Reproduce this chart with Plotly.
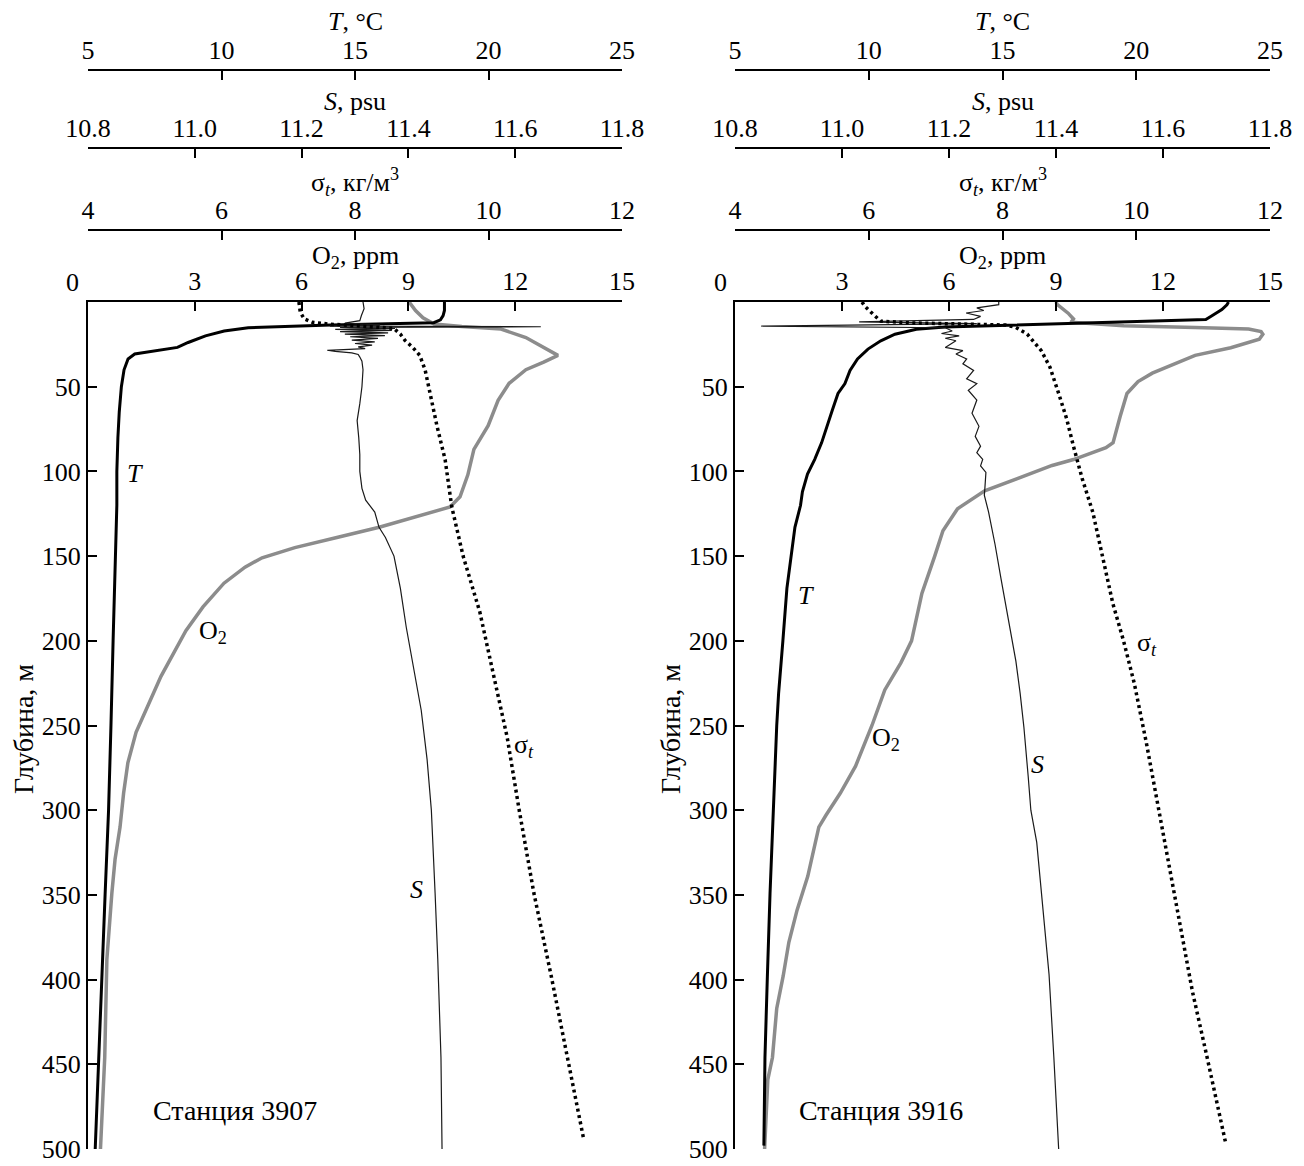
import plotly.graph_objects as go

# ---------------- Station 3907 ----------------
t_depth_3907 = [0, 5, 8, 10.5, 12.2, 13.6, 15.2, 17.1, 20, 23.9, 26.8, 29, 30.7, 33.6, 40, 50, 65, 80,
                100, 120, 150, 200, 250, 300, 350, 400, 450, 500]
t_3907 = [18.35, 18.35, 18.3, 18.2, 17.95, 14.1, 11.0, 10.1, 9.4, 8.75, 8.35, 7.45, 6.75, 6.5, 6.35, 6.25,
          6.17, 6.12, 6.08, 6.08, 6.02, 5.94, 5.86, 5.77, 5.64, 5.51, 5.38, 5.27]

s_depth_3907 = [0, 4, 8, 11, 12.5, 13.5, 14.2, 14.6, 15, 15.6, 16.2, 16.8, 17.5, 18.2, 19, 19.8, 20.5,
                21.5, 22.5, 23.5, 24.5, 25.5, 26.5, 27.5, 28.5, 29.2, 30, 31, 32.5, 35, 40, 50, 60, 70,
                80, 90, 100, 110, 117, 124, 133, 139, 150, 169, 192, 221, 241, 270, 300, 349, 388, 446, 500]
s_3907 = [11.315, 11.317, 11.312, 11.309, 11.281, 11.347, 11.253, 11.648, 11.272, 11.375, 11.263, 11.369,
          11.272, 11.362, 11.281, 11.356, 11.291, 11.343, 11.294, 11.337, 11.300, 11.332, 11.306, 11.319,
          11.248, 11.263, 11.294, 11.306, 11.309, 11.313, 11.315, 11.313, 11.309, 11.304, 11.307, 11.309,
          11.309, 11.313, 11.320, 11.337, 11.345, 11.357, 11.373, 11.385, 11.396, 11.412, 11.424, 11.435,
          11.443, 11.450, 11.455, 11.461, 11.463]

sig_depth_3907 = [0, 6, 10, 12, 13, 13.8, 14.5, 15.5, 19, 22.7, 27, 31.5, 40, 54, 73.5, 93, 104, 121, 150,
                  183, 221, 257, 300, 349, 398, 446, 495]
sig_3907 = [7.16, 7.18, 7.24, 7.36, 7.60, 7.95, 8.35, 8.58, 8.68, 8.75, 8.87, 8.97, 9.05, 9.12, 9.23, 9.35,
            9.39, 9.45, 9.62, 9.87, 10.08, 10.28, 10.46, 10.68, 10.94, 11.18, 11.43]

o2_depth_3907 = [0, 5, 9.3, 13, 14.5, 16, 21, 27, 31.5, 35.5, 40, 48, 58, 73, 87, 102, 110, 115, 121, 126,
                 133, 139, 145, 151, 156.5, 166, 180, 194, 207, 221, 237, 254, 272, 290, 310, 329, 349, 368,
                 388, 446, 500]
o2_3907 = [9.02, 9.2, 9.41, 9.72, 10.5, 11.6, 12.3, 12.8, 13.2, 12.8, 12.3, 11.83, 11.52, 11.24, 10.84,
           10.67, 10.55, 10.45, 10.17, 9.35, 8.18, 6.99, 5.81, 4.89, 4.41, 3.82, 3.23, 2.75, 2.41, 2.05,
           1.71, 1.35, 1.12, 1.0, 0.90, 0.76, 0.67, 0.59, 0.53, 0.47, 0.35]

# ---------------- Station 3916 ----------------
t_depth_3916 = [0, 1.6, 4.5, 6.4, 8.4, 10.3, 11.7, 12.8, 13.8, 14.8, 16.1, 19, 22.9, 27.8, 33.6, 40.4, 48.2,
                54, 63.7, 73.4, 83, 92.9, 101.6, 112, 120, 133, 150, 169, 200, 231, 250, 300, 349, 398, 446, 498]
t_3916 = [23.45, 23.39, 23.2, 22.98, 22.8, 22.6, 19.53, 16.85, 14.2, 12.85, 11.78, 10.98, 10.45, 9.97, 9.58,
          9.3, 9.11, 8.85, 8.64, 8.44, 8.24, 7.98, 7.71, 7.52, 7.45, 7.24, 7.09, 6.94, 6.79, 6.63, 6.56, 6.43,
          6.31, 6.21, 6.12, 6.08]

s_depth_3916 = [0, 1.6, 3.5, 5, 6.5, 8.5, 10.3, 11.7, 12.8, 14.2, 15.2, 17.1, 18.6, 20, 21.4, 22.9, 26.8,
                28.7, 30.7, 33.6, 36.5, 40.4, 45.3, 48.2, 52.1, 57.9, 65.7, 73.4, 79.3, 85.1, 89, 92.9, 96.7,
                100.6, 110.3, 114, 124, 143, 163, 192, 212, 231, 251, 280, 300, 319, 358, 397, 446, 500]
s_3916 = [11.293, 11.293, 11.252, 11.265, 11.232, 11.259, 11.246, 11.032, 11.252, 10.849, 11.193, 11.206,
          11.186, 11.219, 11.193, 11.213, 11.193, 11.226, 11.213, 11.233, 11.226, 11.246, 11.233, 11.252,
          11.236, 11.252, 11.243, 11.256, 11.249, 11.259, 11.252, 11.263, 11.259, 11.269, 11.267, 11.266,
          11.274, 11.286, 11.297, 11.313, 11.325, 11.333, 11.340, 11.348, 11.353, 11.364, 11.375, 11.387,
          11.396, 11.405]

sig_depth_3916 = [0, 2.5, 7.4, 11.3, 12.3, 12.8, 13.2, 13.6, 15, 19, 28.7, 38.5, 54, 69, 85, 104, 124, 150,
                  178, 200, 225, 260, 300, 329, 368, 407, 446, 497]
sig_3916 = [5.90, 5.94, 6.07, 6.18, 6.60, 7.20, 7.70, 8.05, 8.20, 8.37, 8.58, 8.71, 8.84, 8.96, 9.06, 9.19,
            9.35, 9.50, 9.65, 9.81, 9.97, 10.15, 10.34, 10.47, 10.65, 10.84, 11.06, 11.34]

o2_depth_3916 = [0, 1.6, 6.6, 10, 12, 13, 14, 15, 16, 17.5, 19, 22, 27, 31.5, 36.5, 42, 47, 54, 67.5, 83, 86,
                 93, 96.5, 104, 111.5, 122, 135, 150, 172, 200, 213, 229, 250, 274, 290, 303, 310, 339, 359,
                 378, 398, 417, 446, 459, 494, 500]
o2_3916 = [9.0, 9.04, 9.34, 9.49, 9.42, 10.2, 10.9, 12.9, 14.4, 14.75, 14.8, 14.7, 13.9, 12.9, 12.3, 11.7,
           11.3, 10.99, 10.8, 10.6, 10.4, 9.49, 8.89, 7.95, 7.0, 6.24, 5.83, 5.6, 5.24, 4.95, 4.65, 4.2, 3.84,
           3.38, 2.95, 2.55, 2.35, 2.04, 1.74, 1.51, 1.35, 1.17, 1.05, 0.92, 0.84, 0.83]

# ---------------- axes / labels ----------------
t_ticks = [5, 10, 15, 20, 25]
s_ticks = [10.8, 11.0, 11.2, 11.4, 11.6, 11.8]
sig_ticks = [4, 6, 8, 10, 12]
o2_ticks = [3, 6, 9, 12, 15]
depth_ticks = [50, 100, 150, 200, 250, 300, 350, 400, 450, 500]
stations = ["Станция 3907", "Станция 3916"]

W, H = 1304, 1166
FONT = "Liberation Serif"
FS = 26
FS_CYR = 28
GRAY = "#8c8c8c"


def px(x):
    return x / W


def py(y):
    return 1 - y / H


fig = go.Figure()

panels = [
    dict(tx=t_3907, td=t_depth_3907, sx=s_3907, sd=s_depth_3907, gx=sig_3907, gd=sig_depth_3907,
         ox=o2_3907, od=o2_depth_3907, ax=["x", "x2", "x3", "x4"], y="y"),
    dict(tx=t_3916, td=t_depth_3916, sx=s_3916, sd=s_depth_3916, gx=sig_3916, gd=sig_depth_3916,
         ox=o2_3916, od=o2_depth_3916, ax=["x5", "x6", "x7", "x8"], y="y2"),
]

for p in panels:
    fig.add_trace(go.Scatter(x=p["ox"], y=p["od"], xaxis=p["ax"][0], yaxis=p["y"], mode="lines",
                             line=dict(color=GRAY, width=3.5), showlegend=False))
    fig.add_trace(go.Scatter(x=p["gx"], y=p["gd"], xaxis=p["ax"][3], yaxis=p["y"], mode="lines",
                             line=dict(color="black", width=3.5, dash="3px,3.5px"), showlegend=False))
    fig.add_trace(go.Scatter(x=p["sx"], y=p["sd"], xaxis=p["ax"][2], yaxis=p["y"], mode="lines",
                             line=dict(color="#1a1a1a", width=1.2), showlegend=False))
    fig.add_trace(go.Scatter(x=p["tx"], y=p["td"], xaxis=p["ax"][1], yaxis=p["y"], mode="lines",
                             line=dict(color="black", width=3), showlegend=False))

common = dict(showline=True, linewidth=2, linecolor="black", ticks="inside", ticklen=9, tickwidth=2,
              tickcolor="black", showgrid=False, zeroline=False, ticklabeloverflow="allow",
              tickfont=dict(family=FONT, size=FS, color="black"))

doms = [[px(88), px(622)], [px(735), px(1270)]]
ydom = [py(1149), py(302)]
posT, posS, posG = py(70), py(148), py(230)

layout = dict(width=W, height=H, margin=dict(l=0, r=0, t=0, b=0), template="none",
              paper_bgcolor="white", plot_bgcolor="white", showlegend=False)

for i, (o, t, s, g, yname) in enumerate([("xaxis", "xaxis2", "xaxis3", "xaxis4", "y"),
                                         ("xaxis5", "xaxis6", "xaxis7", "xaxis8", "y2")]):
    main = "x" if i == 0 else "x5"
    layout[o] = dict(common, domain=doms[i], anchor=yname, side="top", range=[0, 15], tickvals=o2_ticks)
    layout[t] = dict(common, domain=doms[i], anchor="free", position=posT, overlaying=main, side="top",
                     range=[5, 25], tickvals=t_ticks)
    layout[s] = dict(common, domain=doms[i], anchor="free", position=posS, overlaying=main, side="top",
                     range=[10.8, 11.8], tickvals=s_ticks, tickformat=".1f")
    layout[g] = dict(common, domain=doms[i], anchor="free", position=posG, overlaying=main, side="top",
                     range=[4, 12], tickvals=sig_ticks)
    yk = "yaxis" if i == 0 else "yaxis2"
    layout[yk] = dict(common, domain=ydom, anchor=main, range=[500, 0], tickvals=depth_ticks)

fig.update_layout(**layout)

ann = []
centers = [355, 1002.5]
title_rows = [("<i>T</i>, °C", 22), ("<i>S</i>, psu", 102), ("σ<sub><i>t</i></sub>, кг/м<sup>3</sup>", 182),
              ("O<sub>2</sub>, ppm", 257)]
for c in centers:
    for txt, yy in title_rows:
        ann.append(dict(x=px(c), y=py(yy), xref="paper", yref="paper", text=txt, showarrow=False,
                        xanchor="center", yanchor="middle", font=dict(family=FONT, size=FS, color="black")))
for zx in [72, 720]:
    ann.append(dict(x=px(zx), y=py(283), xref="paper", yref="paper", text="0", showarrow=False,
                    xanchor="center", yanchor="middle", font=dict(family=FONT, size=FS, color="black")))
for yx in [23, 670]:
    ann.append(dict(x=px(yx), y=py(729), xref="paper", yref="paper", text="Глубина, м", showarrow=False,
                    textangle=-90, xanchor="center", yanchor="middle",
                    font=dict(family=FONT, size=FS_CYR, color="black")))

# curve labels (positions in O2 units / depth)
curve_labels = [
    ("x", "y", [("<i>T</i>", 1.32, 101), ("O<sub>2</sub>", 3.5, 195), ("<i>S</i>", 9.24, 347),
                ("σ<sub><i>t</i></sub>", 12.25, 262), (stations[0], 4.13, 477)]),
    ("x5", "y2", [("<i>T</i>", 1.99, 173), ("O<sub>2</sub>", 4.23, 258), ("<i>S</i>", 8.47, 273),
                  ("σ<sub><i>t</i></sub>", 11.55, 202), (stations[1], 4.09, 477)]),
]
for xr, yr, items in curve_labels:
    for txt, xv, dv in items:
        size = FS_CYR if txt.startswith("Станция") else FS
        ann.append(dict(x=xv, y=dv, xref=xr, yref=yr, text=txt, showarrow=False, xanchor="center",
                        yanchor="middle", font=dict(family=FONT, size=size, color="black")))

fig.update_layout(annotations=ann)
fig.write_html("out.html", config={"displayModeBar": False},
               post_script="document.body.style.margin='0px';")
